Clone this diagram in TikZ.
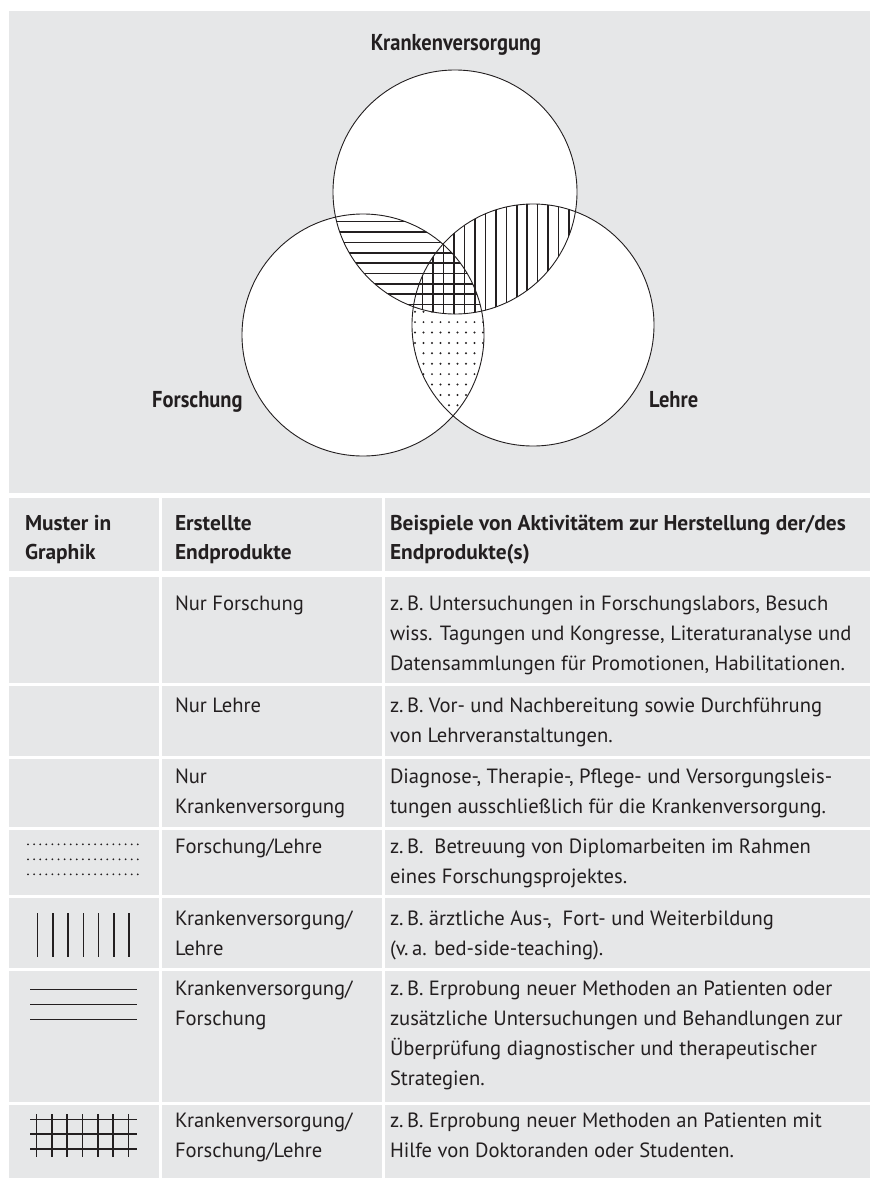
\documentclass[tikz,border=0pt]{standalone}
\usepackage{fontspec}
\setmainfont{PT Sans}
\newfontfamily\vennfont{PT Sans}[FakeStretch=0.89]
\definecolor{panel}{RGB}{230,231,232}
\definecolor{ink}{RGB}{35,31,32}
\newcommand\celltext[1]{\begin{tabular}[t]{@{}l@{}}#1\end{tabular}}
\begin{document}
\begin{tikzpicture}[x=1bp,y=-1bp,
  bodyfont/.style={font={\fontsize{20.6bp}{30bp}\selectfont}},
  txt/.style={bodyfont, anchor=base west, inner sep=0pt, outer sep=0pt, text=ink},
  head/.style={txt, font={\fontsize{21.4bp}{29.5bp}\selectfont\bfseries}},
  vlabel/.style={anchor=base west, inner sep=0pt, text=ink,
    font={\vennfont\bfseries\fontsize{23bp}{23bp}\selectfont}},
  outline/.style={draw=ink, line width=0.9bp},
  hatch/.style={draw=ink, line width=1.5bp},
  dotmark/.style={fill=ink}]
\useasboundingbox (0,0) rectangle (870,1178);
\fill[white] (0,0) rectangle (870,1178);

% grey panel behind the diagram
\fill[panel] (9,11) rectangle (870,493);

% table cells
\foreach \t/\b in {498/571,577/683,686/756,759/827,830/895,898/968,971/1102,1105/1178}{
  \fill[panel] (9,\t) rectangle (158.5,\b);
  \fill[panel] (161.5,\t) rectangle (381.5,\b);
  \fill[panel] (384.5,\t) rectangle (870,\b);
}

% circle centres
\coordinate (cK) at (455,192);
\coordinate (cF) at (363,335);
\coordinate (cL) at (533,325);

% circle interiors
\fill[white] (cK) circle[radius=122bp];
\fill[white] (cF) circle[radius=121bp];
\fill[white] (cL) circle[radius=121bp];

% Forschung/Lehre overlap: dots
\begin{scope}
  \clip (cF) circle[radius=121bp];
  \clip (cL) circle[radius=121bp];
  \foreach \i in {0,...,10}
    \foreach \j in {0,...,8}
      \fill[dotmark] (415+8.5*\j,311.7+10.4*\i) circle[radius=1.1bp];
  \fill[white] (cK) circle[radius=122bp];
\end{scope}

% Krankenversorgung/Forschung overlap: horizontal lines
\begin{scope}
  \clip (cK) circle[radius=122bp];
  \clip (cF) circle[radius=121bp];
  \foreach \i in {0,...,9}
    \draw[hatch] (320,221.7+10.35*\i) -- (500,221.7+10.35*\i);
\end{scope}

% Krankenversorgung/Lehre overlap: vertical lines
\begin{scope}
  \clip (cK) circle[radius=122bp];
  \clip (cL) circle[radius=121bp];
  \foreach \i in {0,...,15}
    \draw[hatch] (422.7+10.45*\i,190) -- (422.7+10.45*\i,330);
\end{scope}

% circle outlines
\draw[outline] (cK) circle[radius=122bp];
\draw[outline] (cF) circle[radius=121bp];
\draw[outline] (cL) circle[radius=121bp];

% circle labels
\node[vlabel, anchor=base] (labK) at (456,50) {Krankenversorgung};
\node[vlabel] (labF) at (152,407) {Forschung};
\node[vlabel] (labL) at (649,407) {Lehre};

% table header
\node[head] (h1) at (25,530) {\celltext{Muster in\\Graphik}};
\node[head] (h2) at (175,530) {\celltext{Erstellte\\Endprodukte}};
\node[head] (h3) at (390,530) {\celltext{Beispiele von Aktivitätem zur Herstellung der/des\\Endprodukte(s)}};

% table body
\node[txt] (a1) at (175,610) {Nur Forschung};
\node[txt] (b1) at (390,610) {\celltext{z.\,B. Untersuchungen in Forschungslabors, Besuch\\wiss. Tagungen und Kongresse, Literaturanalyse und\\Datensammlungen für Promotionen, Habilitationen.}};

\node[txt] (a2) at (175,712) {Nur Lehre};
\node[txt] (b2) at (390,712) {\celltext{z.\,B. Vor- und Nachbereitung sowie Durchführung\\von Lehrveranstaltungen.}};

\node[txt] (a3) at (175,783) {\celltext{Nur\\Krankenversorgung}};
\node[txt] (b3) at (390,783) {\celltext{Diagnose-, Therapie-, Pflege- und Versorgungsleis-\\tungen ausschließlich für die Krankenversorgung.}};

\node[txt] (a4) at (175,853) {Forschung/Lehre};
\node[txt] (b4) at (390,853) {\celltext{z.\,B.\ \ Betreuung von Diplomarbeiten im Rahmen\\eines Forschungsprojektes.}};

\node[txt] (a5) at (175,925) {\celltext{Krankenversorgung/\\Lehre}};
\node[txt] (b5) at (390,925) {\celltext{z.\,B. ärztliche Aus-,\ \ Fort- und Weiterbildung\\(v.\,a. bed-side-teaching).}};

\node[txt] (a6) at (175,995) {\celltext{Krankenversorgung/\\Forschung}};
\node[txt] (b6) at (390,995) {\celltext{z.\,B. Erprobung neuer Methoden an Patienten oder\\zusätzliche Untersuchungen und Behandlungen zur\\Überprüfung diagnostischer und therapeutischer\\Strategien.}};

\node[txt] (a7) at (175,1127) {\celltext{Krankenversorgung/\\Forschung/Lehre}};
\node[txt] (b7) at (390,1127) {\celltext{z.\,B. Erprobung neuer Methoden an Patienten mit\\Hilfe von Doktoranden oder Studenten.}};

% pattern key: dots
\foreach \r in {844.3,859.3,874.3}
  \foreach \j in {0,...,18}
    \fill[dotmark] (28+6.1*\j,\r) circle[radius=1bp];

% pattern key: vertical lines
\foreach \j in {0,...,6}
  \draw[hatch] (37.7+15.22*\j,913) -- (37.7+15.22*\j,957);

% pattern key: horizontal lines
\foreach \r in {989.3,1004.3,1019.3}
  \draw[hatch] (30,\r) -- (137,\r);

% pattern key: grid
\foreach \r in {1119.3,1134.2,1149.1}
  \draw[hatch] (30,\r) -- (137,\r);
\foreach \j in {0,...,6}
  \draw[hatch] (36.7+15.27*\j,1114) -- (36.7+15.27*\j,1157);
\end{tikzpicture}
\end{document}
